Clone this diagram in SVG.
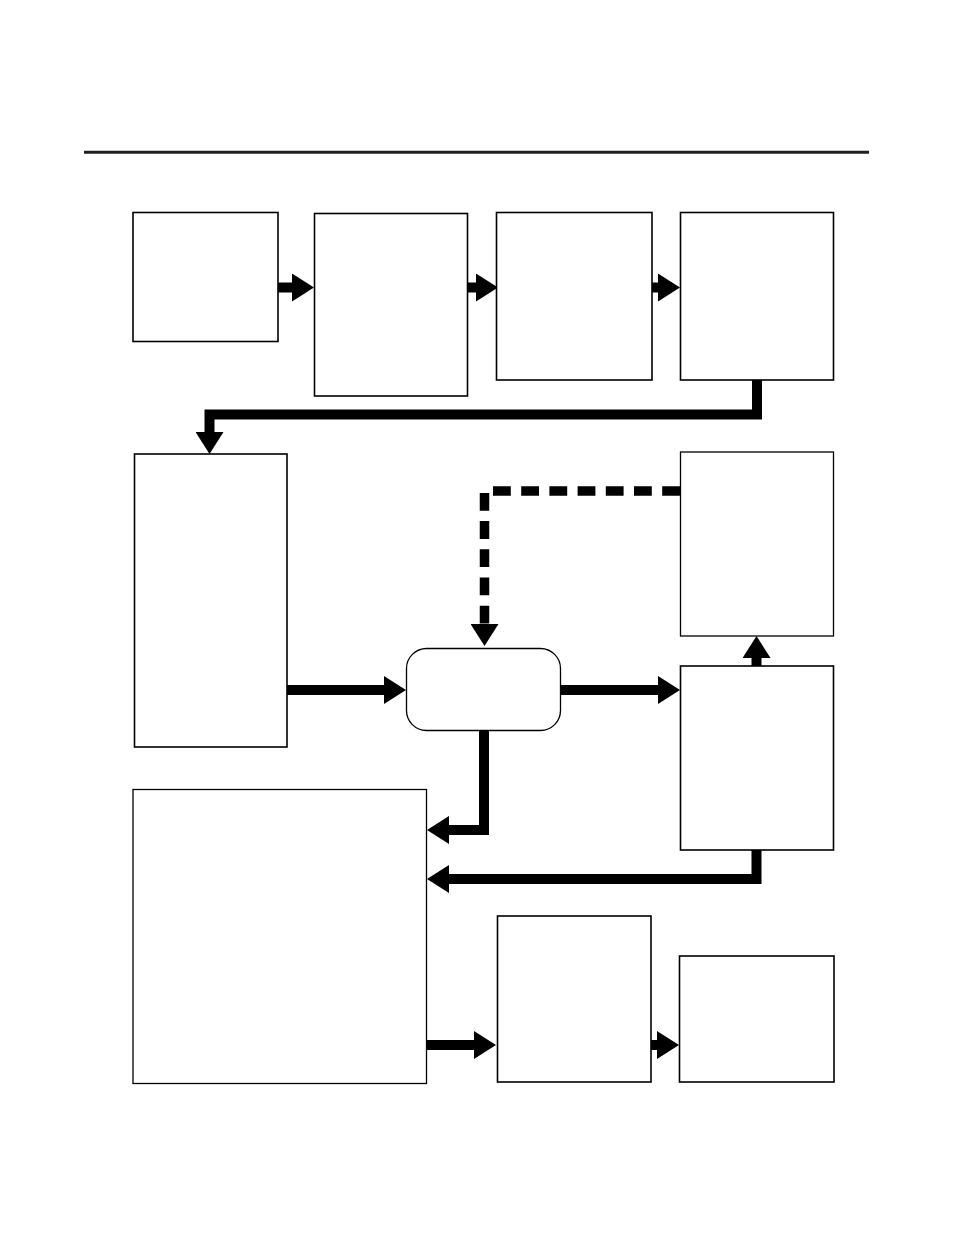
<svg xmlns="http://www.w3.org/2000/svg" width="954" height="1235" viewBox="0 0 954 1235">
  <style>
    .box { fill: #fff; stroke: #000; stroke-width: 1.6; }
    .thin { fill: #fff; stroke: #000; stroke-width: 1.3; }
    .conn { fill: none; stroke: #000; stroke-width: 10; stroke-linejoin: miter; stroke-linecap: butt; marker-end: url(#head); }
    .dash { fill: none; stroke: #000; stroke-width: 9.5; stroke-dasharray: 17.8 10.4; stroke-linecap: butt; marker-end: url(#head); }
  </style>
  <defs>
    <marker id="head" viewBox="0 0 22 28" refX="2" refY="14" markerWidth="22" markerHeight="28" markerUnits="userSpaceOnUse" orient="auto">
      <path d="M0,0 L22,14 L0,28 Z" fill="#000"/>
    </marker>
  </defs>
  <rect width="954" height="1235" fill="#fff"/>
  <line x1="84" y1="152.3" x2="869" y2="152.3" stroke="#231f20" stroke-width="3"/>

  <g id="connectors">
    <path class="conn" d="M278,287.5 H294"/>
    <path class="conn" d="M467,287.5 H478"/>
    <path class="conn" d="M652,287.5 H660"/>
    <path class="conn" d="M757,380 V414.5 H209.5 V434"/>
    <path class="conn" d="M287,690 H386"/>
    <path class="conn" d="M561,690 H660"/>
    <path class="conn" d="M756.5,666 V656"/>
    <path class="dash" d="M680,491 H484.5 V626"/>
    <path class="conn" d="M484,730.5 V830 H447"/>
    <path class="conn" d="M756.5,850 V879 H447"/>
    <path class="conn" d="M426.5,1045 H476"/>
    <path class="conn" d="M651,1045 H659"/>
  </g>

  <g id="node1"><rect class="box" x="133" y="212.5" width="145" height="129"/></g>
  <g id="node2"><rect class="box" x="314.5" y="213.5" width="153" height="182.5"/></g>
  <g id="node3"><rect class="box" x="496.5" y="212.5" width="155.5" height="167.5"/></g>
  <g id="node4"><rect class="box" x="680.5" y="212.5" width="153" height="167.5"/></g>
  <g id="node5"><rect class="box" x="134.5" y="454" width="152.5" height="293"/></g>
  <g id="node6"><rect class="thin" x="680.5" y="452" width="153" height="184"/></g>
  <g id="node7"><rect class="box" x="680.5" y="666" width="153" height="184"/></g>
  <g id="node8"><rect class="thin" x="133" y="789.5" width="293.5" height="294"/></g>
  <g id="node9"><rect class="box" x="497.5" y="916" width="153.5" height="166"/></g>
  <g id="node10"><rect class="box" x="679.5" y="956" width="154.5" height="126"/></g>
  <g id="center"><rect class="thin" x="406.5" y="648.5" width="154" height="82" rx="20" ry="20"/></g>
</svg>
